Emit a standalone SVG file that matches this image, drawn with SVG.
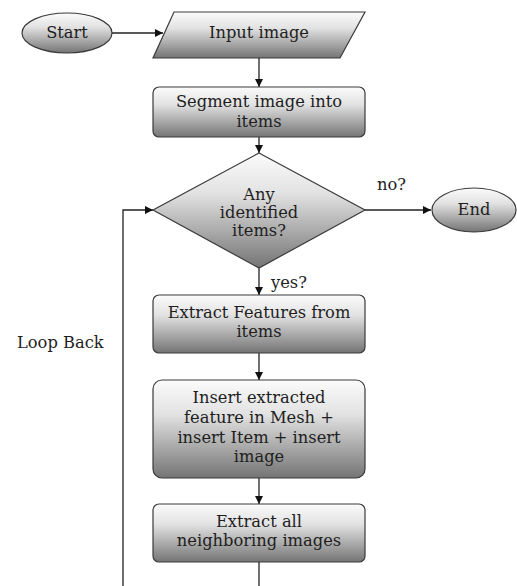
<svg xmlns="http://www.w3.org/2000/svg" width="517" height="586" viewBox="0 0 517 586">
<style>
.shape{fill:url(#g);stroke:#3a3a3a;stroke-width:1.2}
.t{font-family:"DejaVu Serif","Liberation Serif",serif;font-size:16.3px;fill:#1e1e1e;text-anchor:middle}
.l{font-family:"DejaVu Serif","Liberation Serif",serif;font-size:16.3px;fill:#1e1e1e}
.c{fill:none;stroke:#222;stroke-width:1.3}
</style>
<defs>
<linearGradient id="g" x1="0" y1="0" x2="0" y2="1">
<stop offset="0" stop-color="#fbfbfb"/>
<stop offset="0.35" stop-color="#e2e2e2"/>
<stop offset="1" stop-color="#747474"/>
</linearGradient>
<marker id="a" viewBox="0 0 10 10" refX="10" refY="5" markerWidth="8" markerHeight="8" markerUnits="userSpaceOnUse" orient="auto">
<path d="M0,0 L10,5 L0,10 z" fill="#111"/>
</marker>
</defs>
<g id="connectors">
<line class="c" x1="112" y1="33" x2="163" y2="33" marker-end="url(#a)"/>
<line class="c" x1="259" y1="58" x2="259" y2="87" marker-end="url(#a)"/>
<line class="c" x1="259" y1="137" x2="259" y2="153" marker-end="url(#a)"/>
<line class="c" x1="365" y1="210" x2="431" y2="210" marker-end="url(#a)"/>
<line class="c" x1="259" y1="268" x2="259" y2="295" marker-end="url(#a)"/>
<line class="c" x1="259" y1="353" x2="259" y2="380" marker-end="url(#a)"/>
<line class="c" x1="259" y1="478" x2="259" y2="504" marker-end="url(#a)"/>
<line class="c" x1="259" y1="562" x2="259" y2="586"/>
<polyline class="c" points="123,586 123,210 153,210" marker-end="url(#a)"/>
<text class="l" x="377" y="190">no?</text>
<text class="l" x="271" y="288">yes?</text>
<text class="l" x="17" y="348">Loop Back</text>
</g>
<g id="start">
<ellipse class="shape" cx="67" cy="33" rx="45" ry="20"/>
<text class="t" x="67" y="38">Start</text>
</g>
<g id="input">
<polygon class="shape" points="174,12 365,12 340,58 153,58"/>
<text class="t" x="259" y="38">Input image</text>
</g>
<g id="segment">
<rect class="shape" x="153" y="87" width="212" height="50" rx="6"/>
<text class="t" x="259" y="107">Segment image into</text>
<text class="t" x="259" y="127">items</text>
</g>
<g id="decision">
<polygon class="shape" points="259,153 365,210 259,268 153,210"/>
<text class="t" x="259" y="200">Any</text>
<text class="t" x="259" y="218">identified</text>
<text class="t" x="259" y="236">items?</text>
</g>
<g id="end">
<ellipse class="shape" cx="474" cy="210" rx="42" ry="22"/>
<text class="t" x="474" y="215">End</text>
</g>
<g id="extract-features">
<rect class="shape" x="153" y="295" width="212" height="58" rx="6"/>
<text class="t" x="259" y="318">Extract Features from</text>
<text class="t" x="259" y="337">items</text>
</g>
<g id="insert">
<rect class="shape" x="153" y="380" width="212" height="98" rx="9"/>
<text class="t" x="259" y="403">Insert extracted</text>
<text class="t" x="259" y="423">feature in Mesh +</text>
<text class="t" x="259" y="443">insert Item + insert</text>
<text class="t" x="259" y="462">image</text>
</g>
<g id="extract-neighbors">
<rect class="shape" x="153" y="504" width="212" height="58" rx="6"/>
<text class="t" x="259" y="527">Extract all</text>
<text class="t" x="259" y="546">neighboring images</text>
</g>
</svg>
